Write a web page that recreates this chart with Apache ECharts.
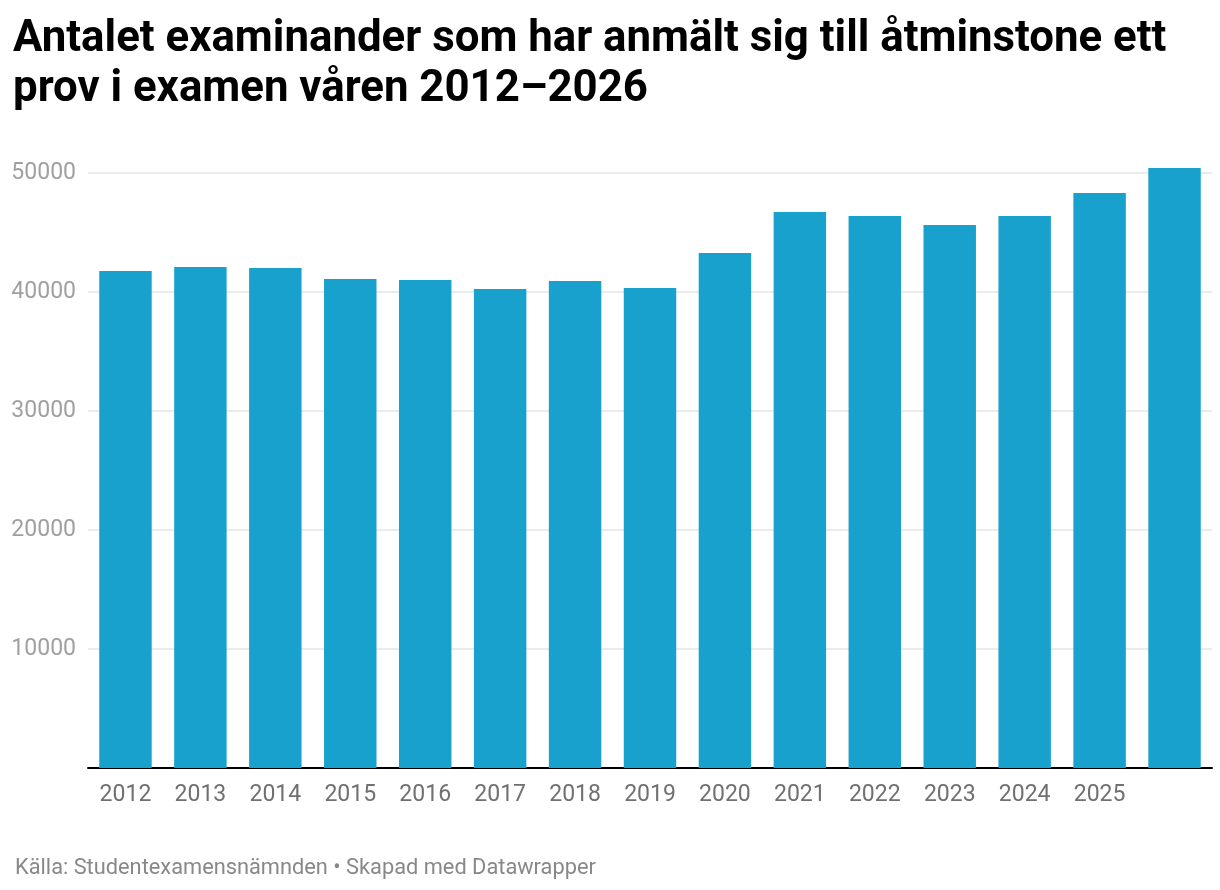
<!DOCTYPE html>
<html><head><meta charset="utf-8">
<script src="https://cdn.jsdelivr.net/npm/echarts@6/dist/echarts.min.js"></script>
<style>html,body{margin:0;padding:0;background:#fff}#c{width:1220px;height:890px}</style>
</head><body><div id="c"></div>
<script>
const categories = ['2012','2013','2014','2015','2016','2017','2018','2019','2020','2021','2022','2023','2024','2025','2026'];
const xTickLabels = ['2012','2013','2014','2015','2016','2017','2018','2019','2020','2021','2022','2023','2024','2025',''];
const values = [41760,42100,42020,41090,41010,40250,40920,40340,43280,46720,46390,45630,46390,48320,50420];
const yTicks = [0,10000,20000,30000,40000,50000];

const chart = echarts.init(document.getElementById('c'));
chart.setOption({
  animation:false,
  textStyle:{fontFamily:'Roboto'},
  title:[{
    text:'Antalet examinander som har anmält sig till åtminstone ett\nprov i examen våren 2012–2026',
    left:8, top:10,
    textStyle:{fontFamily:'Roboto',fontWeight:'bold',fontSize:43.8,lineHeight:50,color:'#000'}
  },{
    text:'Källa: Studentexamensnämnden • Skapad med Datawrapper',
    left:10, top:853,
    textStyle:{fontFamily:'Roboto',fontWeight:'normal',fontSize:21.8,color:'#888'}
  }],
  grid:{left:88,right:8,top:173,bottom:122},
  xAxis:{
    type:'category',data:categories,
    axisLine:{lineStyle:{color:'#000',width:2}},
    axisTick:{show:false},
    axisLabel:{color:'#707070',fontSize:23,margin:16,interval:0,
      formatter:(v,i)=>xTickLabels[i]}
  },
  yAxis:{
    type:'value',min:yTicks[0],max:yTicks[yTicks.length-1],interval:10000,
    axisLine:{show:false},axisTick:{show:false},
    splitLine:{lineStyle:{color:'#e5e5e5',width:1.5}},
    axisLabel:{color:'#a0a0a0',fontSize:23,margin:12,showMinLabel:false,
      formatter:v=>String(v)}
  },
  series:[{
    type:'bar',data:values,barWidth:'70%',clip:false,
    itemStyle:{color:'#18a1cd'}
  }]
});
</script></body></html>
